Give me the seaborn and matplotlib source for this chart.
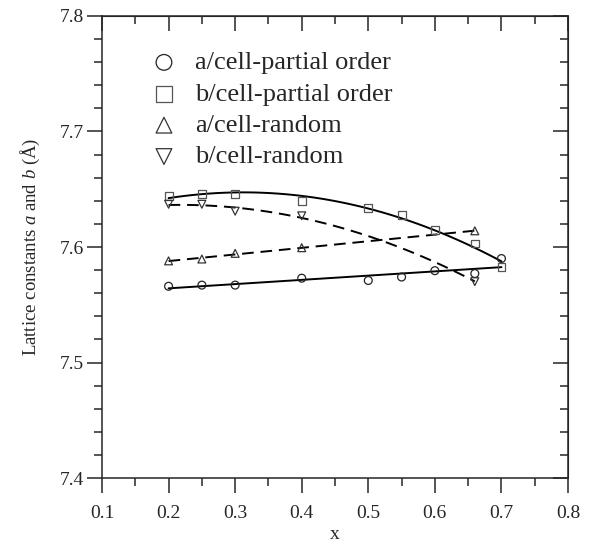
import numpy as np
import pandas as pd
import matplotlib
matplotlib.use("Agg")
import matplotlib.pyplot as plt
import seaborn as sns
from matplotlib.ticker import MultipleLocator

# ---- data ----
x_partial = [0.2, 0.25, 0.3, 0.4, 0.5, 0.55, 0.6, 0.66, 0.7]
a_partial = [7.566, 7.567, 7.567, 7.573, 7.571, 7.574, 7.5795, 7.577, 7.590]
b_partial = [7.644, 7.646, 7.646, 7.640, 7.634, 7.628, 7.615, 7.603, 7.583]
x_random = [0.2, 0.25, 0.3, 0.4, 0.66]
a_random = [7.588, 7.5896, 7.5945, 7.5994, 7.614]
b_random = [7.637, 7.637, 7.631, 7.627, 7.570]

labels = ["a/cell-partial order", "b/cell-partial order", "a/cell-random", "b/cell-random"]
x_ticks = [0.1, 0.2, 0.3, 0.4, 0.5, 0.6, 0.7, 0.8]
y_ticks = [7.4, 7.5, 7.6, 7.7, 7.8]

series = [
    (labels[0], x_partial, a_partial),
    (labels[1], x_partial, b_partial),
    (labels[2], x_random, a_random),
    (labels[3], x_random, b_random),
]
df = pd.concat(
    [pd.DataFrame({"x": xs, "y": ys, "series": name}) for name, xs, ys in series],
    ignore_index=True,
)

# ---- style ----
sns.set_style("ticks")
plt.rcParams["font.family"] = ["Liberation Serif", "DejaVu Serif"]
plt.rcParams["mathtext.fontset"] = "custom"
plt.rcParams["mathtext.rm"] = "Liberation Serif"
plt.rcParams["mathtext.it"] = "Liberation Serif:italic"

markers = {labels[0]: "o", labels[1]: "s", labels[2]: "^", labels[3]: "v"}
edge = {labels[0]: "#222222", labels[1]: "#555555", labels[2]: "#333333", labels[3]: "#333333"}
fit_order = {labels[0]: 1, labels[1]: 2, labels[2]: 1, labels[3]: 2}
fit_style = {labels[0]: "-", labels[1]: "-", labels[2]: (0, (6, 3.5)), labels[3]: (0, (6, 3.5))}

fig = plt.figure(figsize=(5.91, 5.44), dpi=100)
ax = fig.add_axes([0.1726, 0.1213, 0.7885, 0.8493])

for name in labels:
    sub = df[df["series"] == name]
    sns.regplot(data=sub, x="x", y="y", order=fit_order[name], ci=None, scatter=False,
                ax=ax, line_kws=dict(color="black", lw=1.4, ls=fit_style[name]))
    sns.scatterplot(data=sub, x="x", y="y", ax=ax, marker=markers[name], s=32,
                    facecolor="none", edgecolor=edge[name], linewidth=0.9,
                    label=name, zorder=3)

ax.set_xlim(x_ticks[0], x_ticks[-1])
ax.set_ylim(y_ticks[0], y_ticks[-1])
ax.set_xticks(x_ticks)
ax.set_yticks(y_ticks)
ax.set_xticklabels([f"{v:.1f}" for v in x_ticks])
ax.set_yticklabels([f"{v:.1f}" for v in y_ticks])
ax.xaxis.set_minor_locator(MultipleLocator(0.05))
ax.yaxis.set_minor_locator(MultipleLocator(0.02))
ax.tick_params(which="major", direction="out", length=11, width=1.1, labelsize=14)
ax.tick_params(axis="x", which="major", pad=8.5)
ax.tick_params(axis="y", which="major", pad=2)
ax.tick_params(which="minor", direction="out", length=6, width=1.1)
for s in ax.spines.values():
    s.set_linewidth(1.1)
    s.set_visible(True)

# mirrored inward ticks on top and right
top = ax.secondary_xaxis("top")
top.set_xticks(x_ticks)
top.xaxis.set_minor_locator(MultipleLocator(0.05))
top.tick_params(which="major", direction="in", length=11, width=1.1, labeltop=False)
top.tick_params(which="minor", direction="in", length=6, width=1.1)
right = ax.secondary_yaxis("right")
right.set_yticks(y_ticks)
right.yaxis.set_minor_locator(MultipleLocator(0.02))
right.tick_params(which="major", direction="in", length=11, width=1.1, labelright=False)
right.tick_params(which="minor", direction="in", length=6, width=1.1)

ax.set_xlabel("x", fontsize=14, labelpad=3)
ax.set_ylabel("Lattice constants $a$ and $b$ (Å)", fontsize=13.5, labelpad=13)

leg = ax.legend(loc="upper left", bbox_to_anchor=(0.048, 0.976), frameon=False,
                fontsize=19, markerscale=2.0, handletextpad=0.58, labelspacing=0.3,
                handlelength=1.2)

fig.savefig("out.png", dpi=100)
